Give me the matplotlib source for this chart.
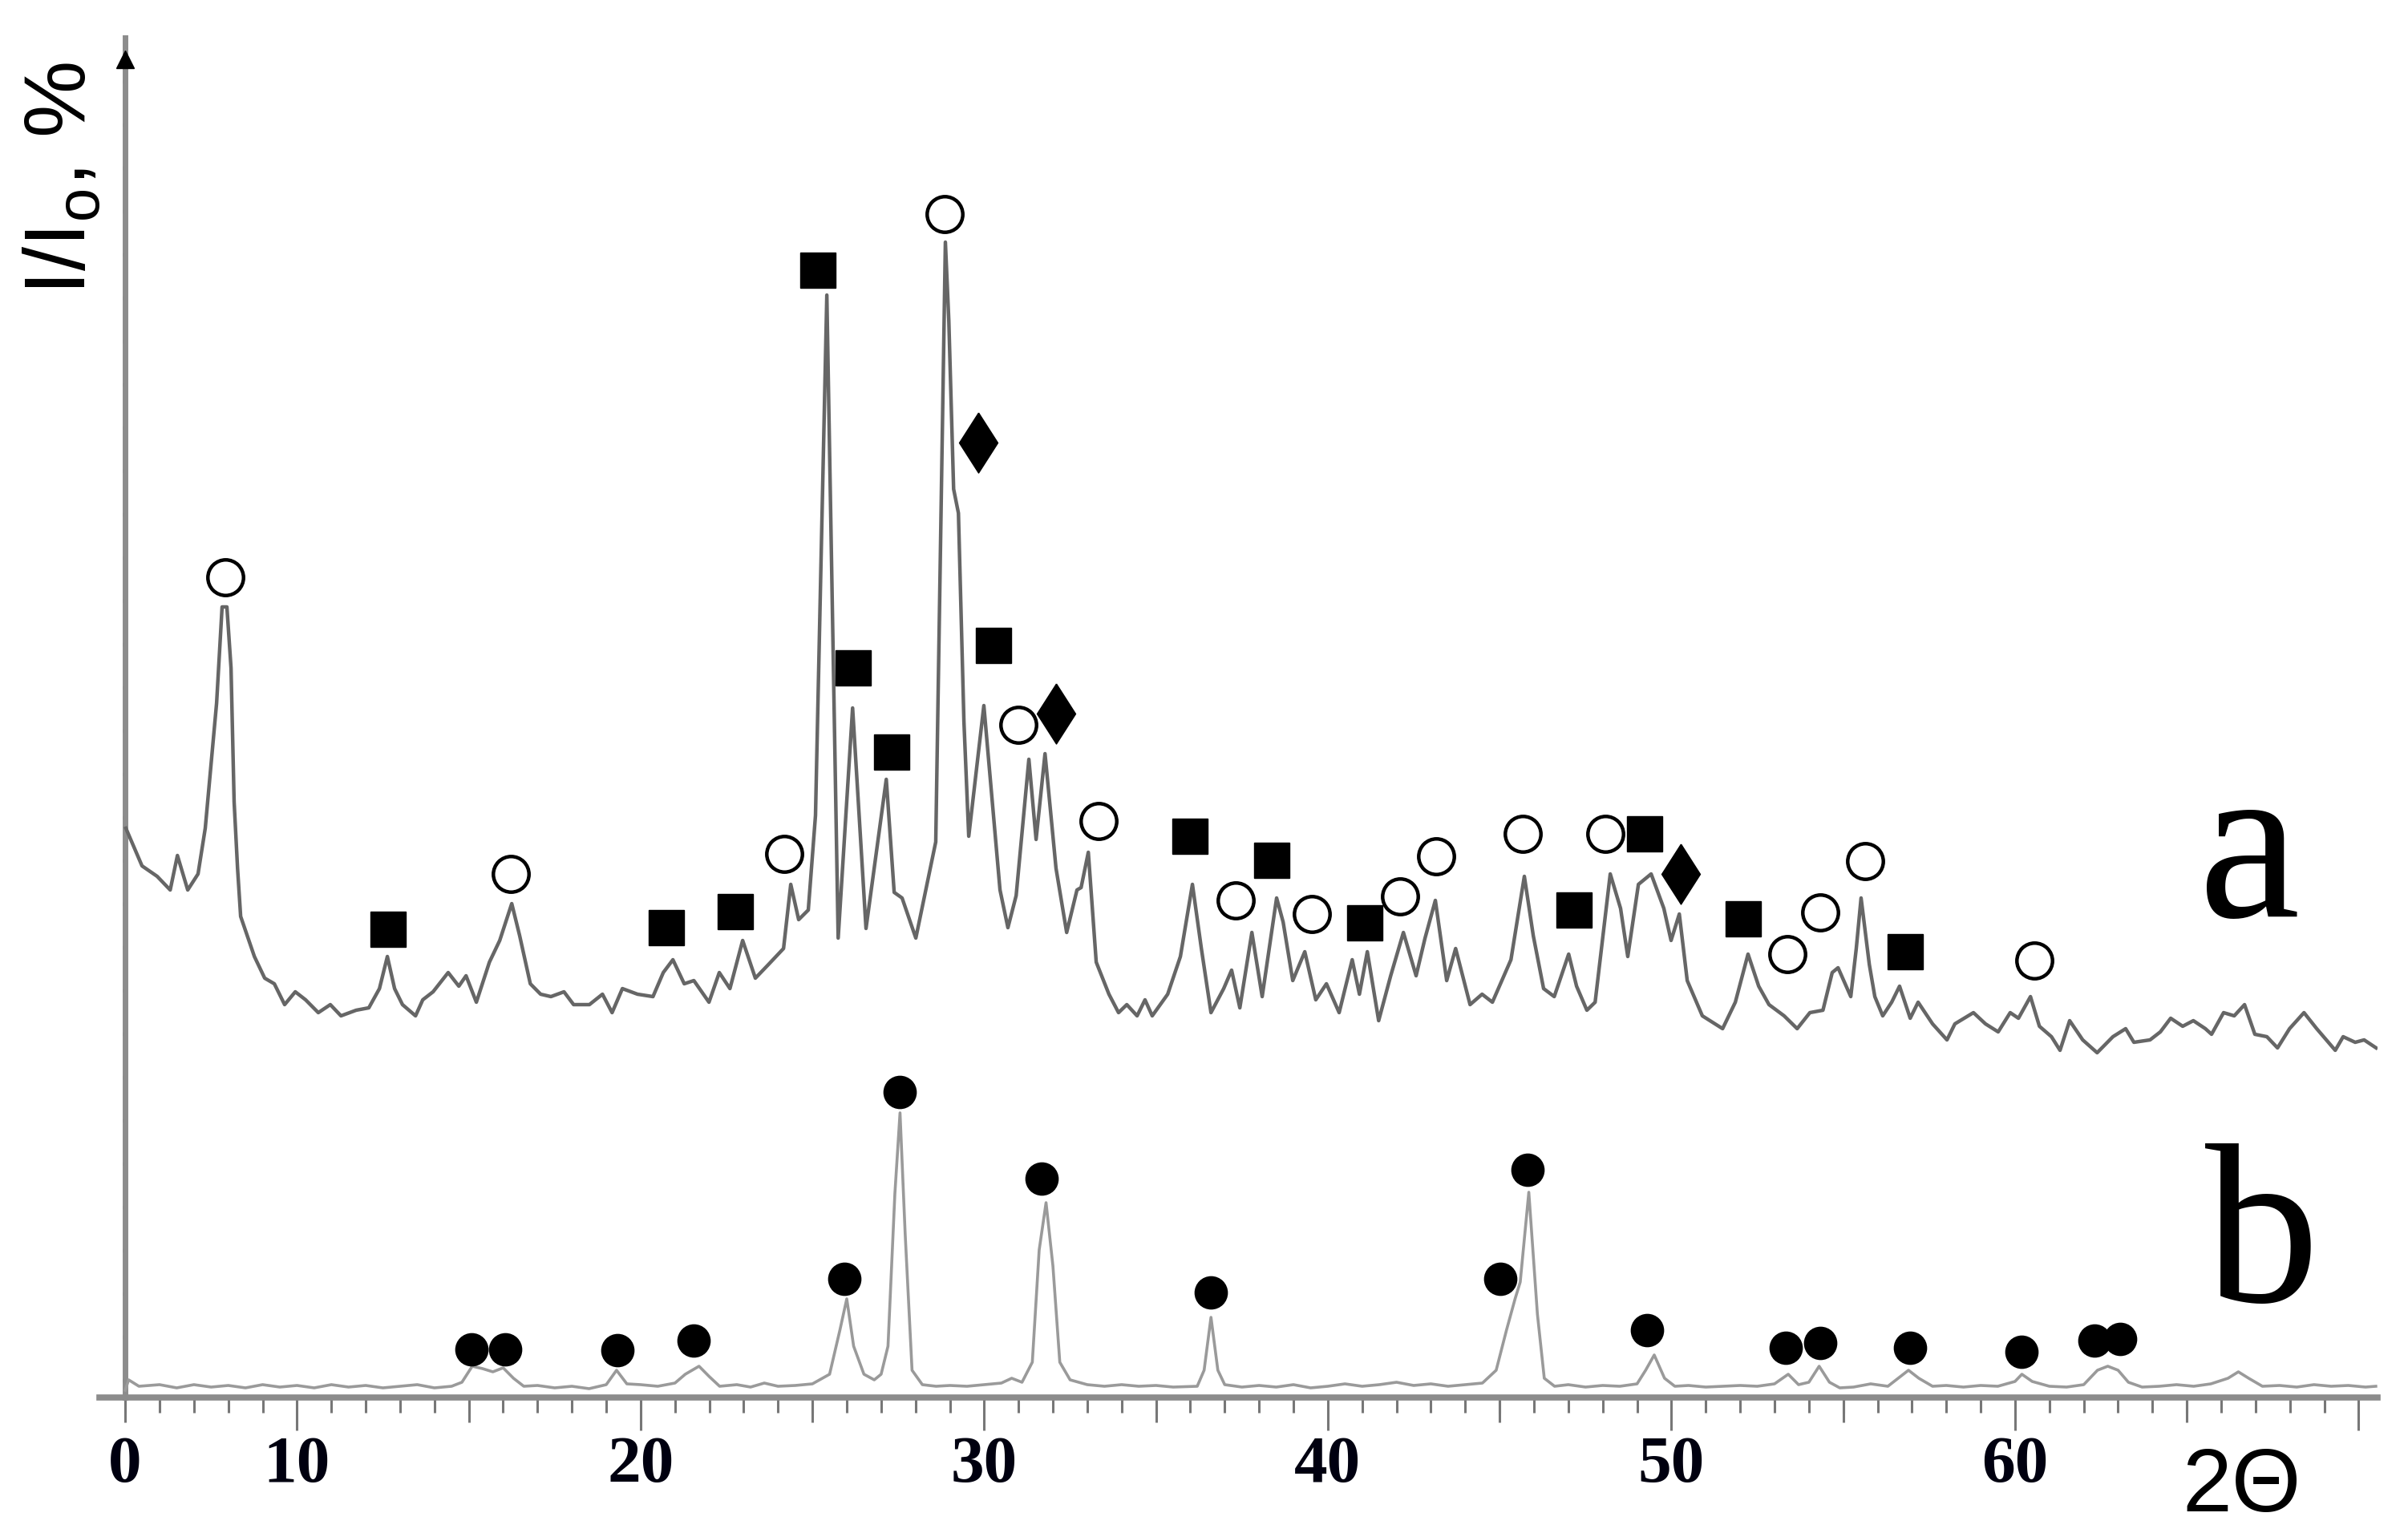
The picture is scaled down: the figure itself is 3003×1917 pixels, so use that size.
import matplotlib
matplotlib.use("Agg")
import matplotlib.pyplot as plt
import numpy as np

# ---- curve a (upper XRD pattern) ----
two_theta_a = [5.02, 5.19, 5.49, 5.93, 6.31, 6.52, 6.82, 7.12, 7.33, 7.54, 7.66, 7.82, 7.96, 8.08,
               8.17, 8.27, 8.36, 8.76, 9.06, 9.34, 9.64, 9.95, 10.25, 10.62, 10.97, 11.28, 11.72,
               12.09, 12.40, 12.63, 12.84, 13.07, 13.45, 13.66, 13.96, 14.40, 14.71, 14.92, 15.22,
               15.60, 15.90, 16.25, 16.48, 16.79, 17.09, 17.39, 17.77, 18.05, 18.51, 18.89, 19.17,
               19.47, 19.91, 20.36, 20.66, 20.94, 21.27, 21.55, 21.99, 22.29, 22.60, 22.97, 23.34,
               23.72, 24.16, 24.37, 24.60, 24.88, 25.09, 25.42, 25.75, 26.17, 26.56, 27.15, 27.38,
               27.61, 28.01, 28.59, 28.87, 28.97, 29.11, 29.25, 29.41, 29.55, 29.99, 30.46, 30.69,
               30.93, 31.30, 31.51, 31.77, 32.09, 32.40, 32.70, 32.82, 33.03, 33.26, 33.63, 33.91,
               34.15, 34.45, 34.68, 34.89, 35.34, 35.71, 36.06, 36.32, 36.60, 36.97, 37.20, 37.44,
               37.79, 38.09, 38.51, 38.70, 38.98, 39.33, 39.65, 39.96, 40.33, 40.71, 40.92, 41.15,
               41.48, 41.83, 42.20, 42.57, 42.83, 43.13, 43.46, 43.72, 44.14, 44.49, 44.79, 45.33,
               45.72, 45.98, 46.28, 46.59, 47.01, 47.24, 47.54, 47.78, 48.22, 48.52, 48.73, 49.04,
               49.41, 49.78, 49.99, 50.23, 50.46, 50.90, 51.49, 51.86, 52.23, 52.54, 52.84, 53.28,
               53.66, 54.03, 54.41, 54.68, 54.85, 55.22, 55.38, 55.52, 55.76, 55.92, 56.15, 56.41,
               56.64, 56.95, 57.18, 57.60, 58.02, 58.25, 58.79, 59.14, 59.51, 59.86, 60.10, 60.45,
               60.71, 61.06, 61.31, 61.59, 61.97, 62.39, 62.85, 63.22, 63.46, 63.93, 64.23, 64.53,
               64.88, 65.19, 65.54, 65.72, 66.07, 66.38, 66.68, 66.98, 67.33, 67.64, 67.99, 68.41,
               68.78, 69.32, 69.55, 69.90, 70.16, 70.51]
intensity_a = [70.6, 68.9, 65.9, 64.6, 62.9, 67.2, 62.9, 64.9, 70.6, 80.6, 86.2, 98.2, 98.2, 90.6,
               73.9, 65.6, 59.6, 54.6, 51.9, 51.2, 48.6, 50.2, 49.2, 47.6, 48.6, 47.2, 47.9,
               48.2, 50.6, 54.6, 50.6, 48.6, 47.2, 49.2, 50.2, 52.6, 50.9, 52.2, 48.9,
               53.9, 56.6, 61.2, 57.2, 51.2, 49.9, 49.6, 50.2, 48.6, 48.6, 49.9, 47.6,
               50.6, 49.9, 49.6, 52.6, 54.2, 51.2, 51.6, 48.9, 52.6, 50.6, 56.6, 51.9,
               53.6, 55.6, 63.6, 59.2, 60.4, 72.2, 137.1, 56.9, 85.6, 58.1, 76.7, 62.6,
               61.9, 56.9, 68.9, 143.7, 133.9, 112.9, 109.9, 83.9, 69.6, 85.9, 62.9, 58.2,
               62.2, 79.2, 69.2, 79.9, 65.6, 57.6, 62.9, 63.2, 67.6, 53.9, 49.9, 47.6,
               48.6, 47.2, 49.2, 47.2, 49.9, 54.6, 63.6, 55.6, 47.6, 50.6, 52.9, 48.2,
               57.6, 49.6, 61.9, 58.9, 51.6, 55.2, 49.2, 51.2, 47.6, 54.2, 49.9, 55.2,
               46.6, 52.2, 57.6, 52.2, 56.9, 61.6, 51.6, 55.6, 48.6, 49.9, 48.9, 54.2,
               64.6, 57.2, 50.6, 49.6, 54.9, 50.9, 47.9, 48.9, 64.9, 60.6, 54.6, 63.6,
               64.9, 60.6, 56.6, 59.9, 51.6, 47.2, 45.6, 48.9, 54.9, 50.9, 48.6, 47.2,
               45.6, 47.6, 47.9, 52.6, 53.2, 49.6, 55.6, 61.9, 53.6, 49.6, 47.2, 48.9,
               50.9, 46.9, 48.9, 46.2, 44.2, 46.2, 47.6, 46.2, 45.2, 47.6, 46.9, 49.6,
               45.9, 44.6, 42.9, 46.6, 44.2, 42.6, 44.6, 45.6, 43.9, 44.2, 45.2, 46.9,
               45.9, 46.6, 45.6, 44.9, 47.6, 47.2, 48.6, 44.9, 44.6, 43.2, 45.6, 47.6,
               45.6, 42.9, 44.6, 43.9, 44.2, 43.2]

# ---- curve b (lower XRD pattern) ----
two_theta_b = [5.0, 5.1, 5.4, 6.0, 6.5, 7.0, 7.5, 8.0, 8.5, 9.0, 9.5, 10.0, 10.5, 11.0, 11.5, 12.0,
               12.5, 13.0, 13.5, 14.0, 14.5, 14.8, 15.1, 15.4, 15.7, 16.0, 16.3, 16.6, 17.0, 17.5,
               18.0, 18.5, 19.0, 19.3, 19.6, 20.0, 20.5, 21.0, 21.3, 21.7, 22.0, 22.3, 22.8, 23.2,
               23.6, 24.0, 24.5, 25.0, 25.5, 25.8, 26.0, 26.2, 26.5, 26.8, 27.0, 27.2, 27.4, 27.55,
               27.7, 27.9, 28.2, 28.6, 29.0, 29.5, 30.0, 30.5, 30.8, 31.1, 31.4, 31.6, 31.8, 32.0,
               32.2, 32.5, 33.0, 33.5, 34.0, 34.5, 35.0, 35.5, 36.2, 36.4, 36.6, 36.8, 37.0, 37.5,
               38.0, 38.5, 39.0, 39.5, 40.0, 40.5, 41.0, 41.5, 42.0, 42.5, 43.0, 43.5, 44.0, 44.5,
               44.9, 45.2, 45.45, 45.6, 45.85, 46.1, 46.3, 46.6, 47.0, 47.5, 48.0, 48.5, 49.0, 49.25,
               49.5, 49.8, 50.1, 50.5, 51.0, 51.5, 52.0, 52.5, 53.0, 53.4, 53.7, 54.0, 54.3, 54.6,
               54.9, 55.3, 55.8, 56.3, 56.6, 56.9, 57.2, 57.6, 58.0, 58.5, 59.0, 59.5, 60.0, 60.2,
               60.5, 61.0, 61.5, 62.0, 62.4, 62.7, 63.0, 63.3, 63.7, 64.2, 64.7, 65.2, 65.7, 66.2,
               66.5, 66.8, 67.2, 67.7, 68.2, 68.7, 69.2, 69.7, 70.2, 70.5]
intensity_b = [0.5, 1.8, 1.0, 1.2, 0.8, 1.2, 0.9, 1.1, 0.8, 1.2, 0.9, 1.1, 0.8, 1.2, 0.9, 1.1,
               0.8, 1.0, 1.2, 0.8, 1.0, 1.5, 3.5, 3.2, 2.8, 3.3, 2.0, 1.0, 1.1, 0.8,
               1.0, 0.7, 1.2, 3.0, 1.3, 1.2, 1.0, 1.4, 2.5, 3.5, 2.2, 1.0, 1.2, 0.9,
               1.4, 1.0, 1.1, 1.3, 2.5, 8.0, 11.9, 6.0, 2.5, 1.8, 2.5, 6.0, 25.0, 35.1,
               20.0, 3.0, 1.2, 1.0, 1.1, 1.0, 1.2, 1.4, 2.0, 1.5, 4.0, 18.0, 23.9, 16.0,
               4.0, 1.8, 1.2, 1.0, 1.2, 1.0, 1.1, 0.9, 1.0, 3.0, 9.6, 3.0, 1.2, 0.9,
               1.1, 0.9, 1.2, 0.8, 1.0, 1.3, 1.0, 1.2, 1.5, 1.1, 1.3, 1.0, 1.2, 1.4,
               3.0, 8.0, 11.9, 14.0, 25.2, 10.0, 2.0, 1.0, 1.2, 0.9, 1.1, 1.0, 1.3, 3.0,
               4.9, 2.0, 1.0, 1.1, 0.9, 1.0, 1.1, 1.0, 1.3, 2.5, 1.2, 1.5, 3.5, 1.5,
               0.8, 0.9, 1.3, 1.0, 2.0, 3.0, 2.0, 1.0, 1.1, 0.9, 1.1, 1.0, 1.6, 2.5,
               1.6, 1.0, 0.9, 1.2, 3.0, 3.5, 3.0, 1.5, 0.9, 1.0, 1.2, 1.0, 1.3, 2.0,
               2.8, 2.0, 1.0, 1.1, 0.9, 1.2, 1.0, 1.1, 0.9, 1.0]

# ---- phase markers on curve a ----
circle_a_x = [7.92, 16.23, 24.18, 28.85, 31.00, 33.33, 37.32, 39.54, 42.11, 43.16, 45.68,
              48.08, 53.38, 54.33, 55.64, 60.57]
circle_a_y = [101.9, 64.9, 67.4, 147.2, 83.5, 71.5, 61.6, 59.9, 62.1, 67.1, 69.9,
              69.9, 54.9, 60.1, 66.5, 54.1]
square_a_x = [12.65, 20.75, 22.76, 25.16, 26.19, 27.31, 30.27, 35.99, 38.37, 41.08, 47.17,
              49.22, 52.09, 56.81]
square_a_y = [58.0, 58.2, 60.2, 140.2, 90.6, 80.1, 93.4, 69.6, 66.6, 58.8, 60.4,
              69.9, 59.3, 55.2]
diamond_a_x = [29.83, 32.09, 50.27]
diamond_a_y = [118.7, 84.9, 64.9]

# ---- phase markers on curve b ----
dot_b_x = [15.08, 16.06, 19.33, 21.55, 25.93, 27.54, 31.67, 36.60, 45.02, 45.82, 49.29,
           53.33, 54.33, 56.95, 60.19, 62.32, 63.06]
dot_b_y = [5.6, 5.6, 5.5, 6.7, 14.4, 37.7, 26.9, 12.7, 14.4, 28.0, 8.0,
           5.8, 6.4, 5.8, 5.3, 6.7, 6.9]

tick_major = [10, 20, 30, 40, 50, 60, 70]
tick_major_labels = ["10", "20", "30", "40", "50", "60", ""]
tick_mid = [5, 15, 25, 35, 45, 55, 65]
tick_mid_labels = ["0", "", "", "", "", "", ""]

AXIS_GREY = "#8c8c8c"
TICK_GREY = "#777777"
XLIM = (4.25, 70.55)
YLIM = (-0.4, 169.2)

fig = plt.figure(figsize=(30.03, 19.17), dpi=100)
rect = [0.04129, 0.09077, 0.94605, 0.88471]

# second layer (behind) carries only the 5-degree ticks and the "0" label
ax2 = fig.add_axes(rect, frameon=False)
ax2.set_xlim(*XLIM)
ax2.set_ylim(*YLIM)
ax2.set_yticks([])
ax2.set_xticks(tick_mid)
ax2.set_xticklabels(tick_mid_labels)
ax2.tick_params(axis="x", which="major", direction="out", length=22, width=2.2,
                color=TICK_GREY, pad=12.5, labelsize=60)
for lab in ax2.get_xticklabels():
    lab.set_fontfamily("Liberation Serif")
    lab.set_fontweight("bold")
    lab.set_color("#000010")

ax = fig.add_axes(rect)
ax.patch.set_alpha(0)

ax.plot(two_theta_a, intensity_a, color="#666666", lw=3.2, zorder=3)
ax.plot(two_theta_b, intensity_b, color="#9a9a9a", lw=2.6, zorder=3)

# tall diamond marker shape
tall_diamond = [(0, 1), (0.64, 0), (0, -1), (-0.64, 0), (0, 1)]

ax.plot(circle_a_x, circle_a_y, ls="none", marker="o", ms=32, mfc="white", mec="black",
        mew=3.2, zorder=5)
ax.plot(square_a_x, square_a_y, ls="none", marker="s", ms=31, mfc="black", mec="black",
        zorder=5)
ax.plot(diamond_a_x, diamond_a_y, ls="none", marker=tall_diamond, ms=54, mfc="black",
        mec="black", zorder=5)
ax.plot(dot_b_x, dot_b_y, ls="none", marker="o", ms=29, mfc="black", mec="black", zorder=5)

ax.set_xlim(*XLIM)
ax.set_ylim(*YLIM)

for side in ["top", "right"]:
    ax.spines[side].set_visible(False)
ax.spines["left"].set_position(("data", 5))
ax.spines["left"].set_color(AXIS_GREY)
ax.spines["left"].set_linewidth(5)
ax.spines["bottom"].set_color(AXIS_GREY)
ax.spines["bottom"].set_linewidth(5.5)

# arrow head on the intensity axis
ax.plot([5], [166.5], marker="^", ms=16, color="black", clip_on=False, zorder=6)

ax.set_xticks(tick_major)
ax.set_xticklabels(tick_major_labels)
ax.set_xticks(np.arange(5, 71, 1), minor=True)
ax.tick_params(axis="x", which="major", direction="out", length=29.5, width=2.2,
               color=TICK_GREY, pad=5, labelsize=60)
ax.tick_params(axis="x", which="minor", direction="out", length=14, width=2.2,
               color=TICK_GREY)
for lab in ax.get_xticklabels():
    lab.set_fontfamily("Liberation Serif")
    lab.set_fontweight("bold")
    lab.set_color("#000010")

ax.set_yticks(np.arange(1.7, 168, 5.4))
ax.set_yticklabels([])
ax.tick_params(axis="y", which="major", direction="inout", length=5, width=3, color="#444444")

# labels
fig.text(0.026, 0.884, "I/I$_\\mathregular{o}$, %", rotation=90, ha="center", va="center",
         fontsize=78, family="Liberation Sans")
fig.text(0.931, 0.0167, "2Θ", ha="center", va="baseline", fontsize=80,
         family="Liberation Sans")
fig.text(0.934, 0.4038, "a", ha="center", va="baseline", fontsize=205,
         family="Liberation Serif")
fig.text(0.9394, 0.1534, "b", ha="center", va="baseline", fontsize=205,
         family="Liberation Serif")

fig.savefig("out.png", dpi=100)
